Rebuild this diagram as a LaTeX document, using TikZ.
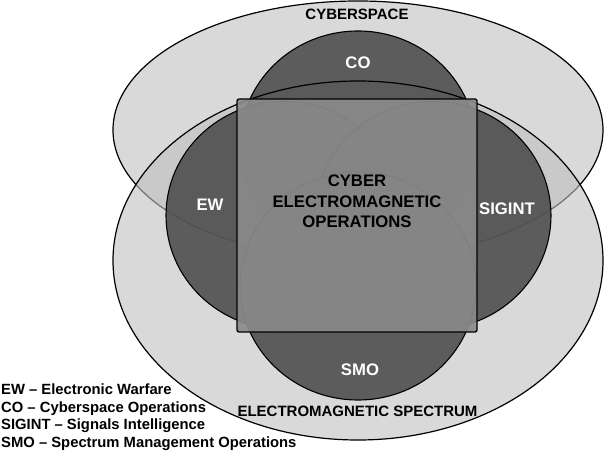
\documentclass[tikz,border=0pt]{standalone}
\usepackage{fontspec}
\setmainfont{Liberation Sans}
\definecolor{zonegray}{gray}{0.75}
\definecolor{areagray}{gray}{0.30}
\definecolor{cemogray}{gray}{0.54}
\begin{document}
\begin{tikzpicture}[x=1pt, y=-1pt,
  zonefill/.style={fill=zonegray, fill opacity=0.6},
  zoneline/.style={draw=black, line width=1.2pt},
  area/.style={fill=areagray, fill opacity=0.88, draw=black, line width=1.1pt},
  cemo/.style={fill=cemogray, fill opacity=0.92, draw=black, line width=1.3pt, rounded corners=2pt},
  heading/.style={font=\fontsize{15}{18}\selectfont\bfseries, inner sep=0pt},
  areaname/.style={font=\fontsize{16.7}{20}\selectfont\bfseries, text=white, inner sep=0pt},
  cemoname/.style={font=\fontsize{16.7}{20.5}\selectfont\bfseries, align=center, inner sep=0pt},
  legend/.style={font=\fontsize{14.8}{17.5}\selectfont\bfseries, align=left, inner sep=0pt}]
\useasboundingbox (0,0) rectangle (611,454);
% cyberspace, then the spectrum
\path[zonefill, zoneline] (358,130) ellipse [x radius=245pt, y radius=129pt];
\fill[zonefill] (358,260.5) ellipse [x radius=245pt, y radius=179.5pt];
% CO, EW, SIGINT, SMO
\foreach \cx/\cy in {358/145, 284/215.5, 433/215.5, 358/286}
  \path[area] (\cx,\cy) ellipse [x radius=118pt, y radius=114pt];
\draw[zoneline] (358,260.5) ellipse [x radius=245pt, y radius=179.5pt];
\path[cemo] (237,99) rectangle (477,332);
\node[heading] (cyberspace) at (357,14) {CYBERSPACE};
\node[areaname] (co) at (358,63) {CO};
\node[areaname] (ew) at (210,205) {EW};
\node[areaname] (sigint) at (507,209) {SIGINT};
\node[areaname] (smo) at (360,370) {SMO};
\node[cemoname] (cemoops) at (357,201.5) {CYBER\\ELECTROMAGNETIC\\OPERATIONS};
\node[heading] (spectrum) at (357.5,411) {ELECTROMAGNETIC SPECTRUM};
\node[legend, anchor=west] (key) at (1,417) {EW – Electronic Warfare\\CO – Cyberspace Operations\\SIGINT – Signals Intelligence\\SMO – Spectrum Management Operations};
\end{tikzpicture}
\end{document}
